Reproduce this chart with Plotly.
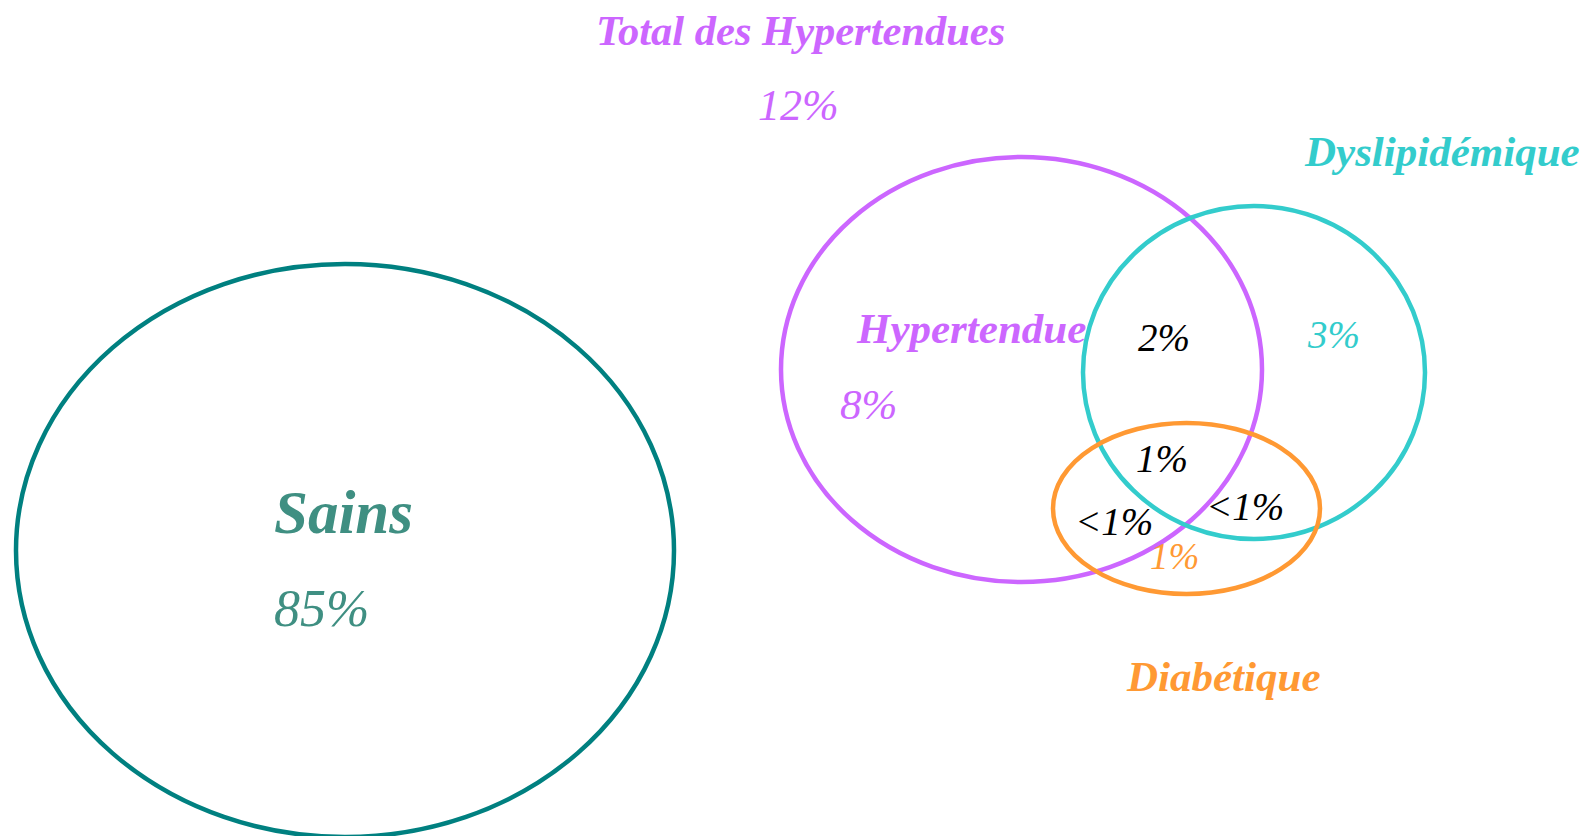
import plotly.graph_objects as go

# ---- data ----
groups = ["Sains", "Hypertendue", "Dyslipidémique", "Diabétique"]
group_pct = ["85%", "8%", "3%", "1%"]
overlap_labels = ["2%", "1%", "<1%", "<1%"]   # HTA∩DLP, all three, HTA∩DIAB, DLP∩DIAB
total_label = "Total des Hypertendues"
total_pct = "12%"

# ---- layout (pixel space) ----
W, H = 1583, 836
ellipses = {  # x0, y0, x1, y1
    "Sains": (16, 264, 674, 837),
    "Hypertendue": (781, 157, 1262, 582),
    "Dyslipidémique": (1083, 206, 1425, 539),
    "Diabétique": (1053, 423, 1320, 594),
}
line_col = {"Sains": "#008080", "Hypertendue": "#CC66FF",
            "Dyslipidémique": "#33CCCC", "Diabétique": "#FF9933"}
text_col = {"Sains": "#3F8F82", "Hypertendue": "#CC66FF",
            "Dyslipidémique": "#33CCCC", "Diabétique": "#FF9933"}
name_pos = {"Sains": (343, 512), "Hypertendue": (971, 328),
            "Dyslipidémique": (1442, 151), "Diabétique": (1223, 676)}
name_size = {"Sains": 61, "Hypertendue": 43, "Dyslipidémique": 43, "Diabétique": 43}
pct_pos = {"Sains": (321, 608), "Hypertendue": (868, 404),
           "Dyslipidémique": (1333, 334), "Diabétique": (1174, 556)}
pct_size = {"Sains": 52, "Hypertendue": 43, "Dyslipidémique": 39, "Diabétique": 37}
overlap_pos = [(1164, 337), (1162, 458), (1114, 521), (1245, 506)]

FONT = "Liberation Serif"

fig = go.Figure()
shapes = []
for g in groups:
    x0, y0, x1, y1 = ellipses[g]
    shapes.append(dict(type="circle", xref="x", yref="y", x0=x0, y0=y0, x1=x1, y1=y1,
                       line=dict(color=line_col[g], width=4.5), fillcolor="rgba(0,0,0,0)"))

ann = []
def add(text, pos, size, color, bold):
    ann.append(dict(x=pos[0], y=pos[1], xref="x", yref="y", text=text, showarrow=False,
                    xanchor="center", yanchor="middle",
                    font=dict(family=FONT, size=size, color=color, style="italic",
                              weight="bold" if bold else "normal")))

for g, p in zip(groups, group_pct):
    add(g, name_pos[g], name_size[g], text_col[g], True)
    add(p, pct_pos[g], pct_size[g], text_col[g], False)
for t, pos in zip(overlap_labels, overlap_pos):
    add(t.replace("<", "&lt;"), pos, 39, "#000000", False)
add(total_label, (800, 30), 42.5, "#CC66FF", True)
add(total_pct, (798, 105), 44, "#CC66FF", False)

fig.add_trace(go.Scatter(x=[0, W], y=[0, H], mode="markers", marker=dict(opacity=0),
                         hoverinfo="skip", showlegend=False))
fig.update_layout(
    width=W, height=H, margin=dict(l=0, r=0, t=0, b=0),
    paper_bgcolor="white", plot_bgcolor="white",
    xaxis=dict(range=[0, W], visible=False, fixedrange=True),
    yaxis=dict(range=[H, 0], visible=False, fixedrange=True),
    shapes=shapes, annotations=ann, showlegend=False,
)
fig.write_html("out.html", config={"displayModeBar": False},
               post_script="document.body.style.margin='0px';document.body.style.overflow='hidden';")
